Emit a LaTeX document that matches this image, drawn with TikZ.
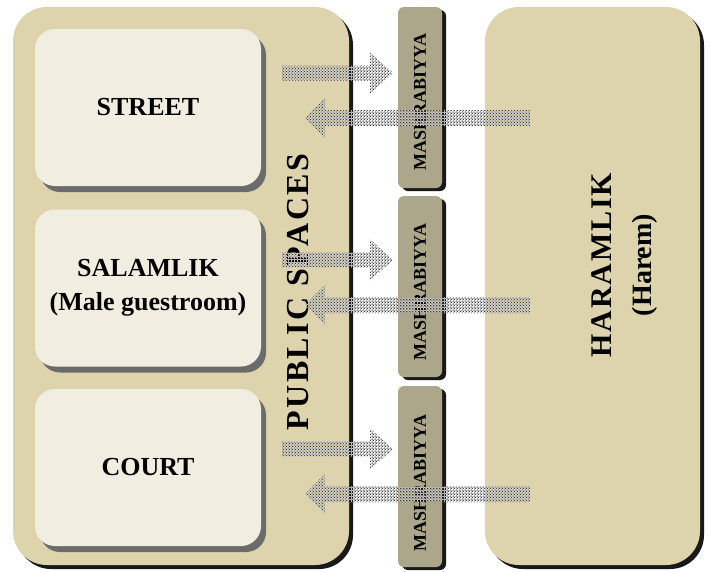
\documentclass[tikz,border=0pt]{standalone}
\usepackage{fontspec}
\setmainfont{Liberation Serif}
\newfontfamily\spacedfont[LetterSpace=8]{Liberation Serif}
\newfontfamily\widefont[LetterSpace=6]{Liberation Serif}
\usetikzlibrary{shadows,patterns}
\definecolor{tan}{RGB}{221,212,174}
\definecolor{cream}{RGB}{241,238,225}
\definecolor{lattice}{RGB}{172,166,138}
\tikzset{
  panel/.style={rectangle, rounded corners=34pt, fill=tan, draw=none,
    drop shadow={shadow xshift=4pt, shadow yshift=-4pt, fill=black!90, opacity=1}},
  room/.style={rectangle, rounded corners=20pt, fill=cream, draw=none,
    minimum width=226pt, minimum height=157pt, align=center,
    font=\fontsize{26}{34}\selectfont\bfseries,
    drop shadow={shadow xshift=5pt, shadow yshift=-6pt, fill=black!58, opacity=1}},
  screen/.style={rectangle, rounded corners=6pt, fill=lattice, draw=none,
    minimum width=44pt, minimum height=181pt,
    drop shadow={shadow xshift=4pt, shadow yshift=-3pt, fill=black!90, opacity=1}},
  flow/.style={pattern=crosshatch dots, pattern color=black!90},
  flowgrid/.style={pattern=grid, pattern color=black!22}
}
% fat hatched arrows
\newcommand{\rarrow}[1]{%
  \foreach \s in {flowgrid, flow}
  \fill[\s] (282,#1-7.5) -- (370,#1-7.5) -- (370,#1-20.5) -- (393,#1)
    -- (370,#1+20.5) -- (370,#1+7.5) -- (282,#1+7.5) -- cycle;}
\newcommand{\larrow}[1]{%
  \foreach \s in {flowgrid, flow}
  \fill[\s] (530,#1-8) -- (325,#1-8) -- (325,#1-20) -- (305,#1)
    -- (325,#1+20) -- (325,#1+8) -- (530,#1+8) -- cycle;}
\begin{document}
\begin{tikzpicture}[x=1pt,y=-1pt]
\useasboundingbox (0,0) rectangle (709,571);

% public side
\node[panel, minimum width=336pt, minimum height=558pt] (public) at (181,286) {};
\node[room] (street) at (148,107.5) {STREET};
\node[room] (salamlik) at (148,288) {SALAMLIK\\(Male guestroom)};
\node[room] (court) at (148,467.5) {COURT};
\node[rotate=90, font=\fontsize{32}{38}\spacedfont\bfseries] (publab) at (298,292) {PUBLIC SPACES};

% screens
\node[screen] (mash1) at (420,97.5) {};
\node[screen] (mash2) at (420,286.5) {};
\node[screen] (mash3) at (420,476.5) {};
\foreach \n/\y in {1/102, 2/292, 3/483}
  \node[rotate=90, font=\fontsize{18}{22}\selectfont\bfseries] (mashlab\n) at (420,\y) {MASHRABIYYA};

% private side
\node[panel, minimum width=215pt, minimum height=558pt] (harem) at (592.5,286) {};
\node[rotate=90, align=center, font=\fontsize{28}{40}\selectfont\bfseries] (haremlab) at (625,265)
  {{\fontsize{30}{40}\widefont\bfseries HARAMLIK}\\(Harem)};

% exchanges
\rarrow{73}  \larrow{118}
\rarrow{260} \larrow{305}
\rarrow{449} \larrow{494}
\end{tikzpicture}
\end{document}
